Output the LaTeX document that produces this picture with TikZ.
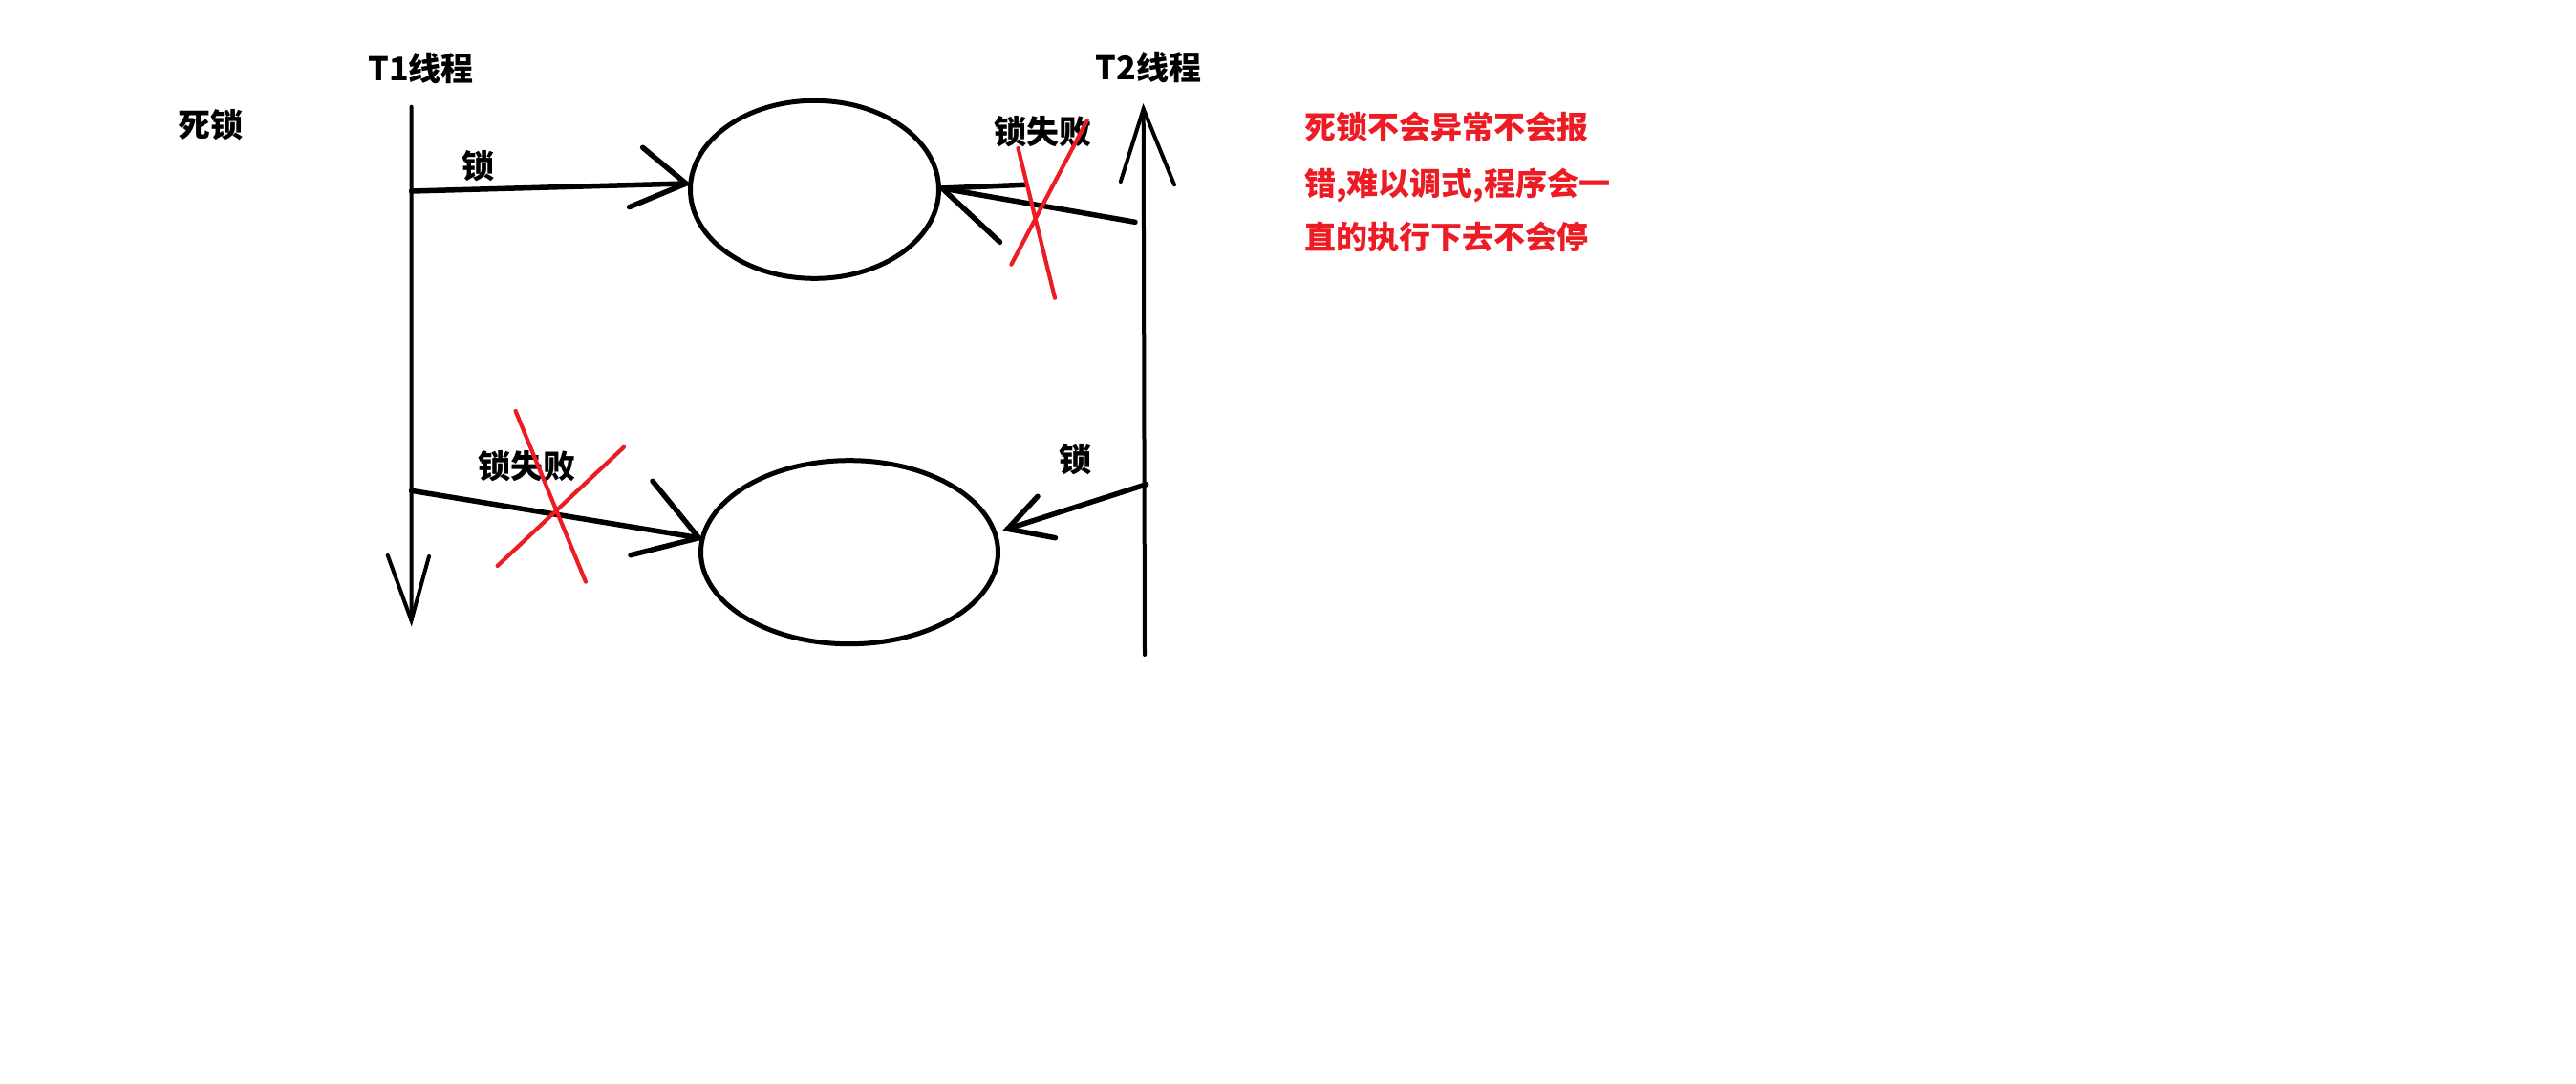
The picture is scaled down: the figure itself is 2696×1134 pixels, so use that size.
\documentclass[tikz,border=0pt]{standalone}
\usepackage{fontspec}
\setmainfont{Noto Sans CJK SC}
\usetikzlibrary{shapes.geometric}
\definecolor{pred}{RGB}{237,28,36}
\tikzset{
  thread/.style={line width=4pt, line cap=round, black},
  arr/.style={line width=5.5pt, line cap=round, black},
  ring/.style={draw, ellipse, line width=5pt, inner sep=0pt},
  cross/.style={line width=4.2pt, line cap=round, pred},
  lbl/.style={font=\fontsize{34}{40}\selectfont\bfseries, anchor=base, inner sep=0pt},
  note/.style={font=\fontsize{33}{40}\selectfont\bfseries, text=pred, anchor=base west, inner sep=0pt}
}
\begin{document}
\begin{tikzpicture}[x=1pt,y=-1pt]
\fill[white] (0,0) rectangle (2696,1134);
\useasboundingbox (0,0) rectangle (2696,1134);

% labels
\node[lbl] (dl) at (220,144) {死锁};
\node[lbl] (t1l) at (440.5,85) {T1线程};
\node[lbl] (t2l) at (1202,84) {T2线程};
\node[lbl] (s1) at (500,187) {锁};
\node[lbl] (f1) at (1091,151) {锁失败};
\node[lbl] (f2) at (551.5,500) {锁失败};
\node[lbl] (s2) at (1125,493) {锁};
\node[note] (n1) at (1365,146) {死锁不会异常不会报};
\node[note] (n2) at (1365,204.5) {错,难以调式,程序会一};
\node[note] (n3) at (1365,261) {直的执行下去不会停};

% resources
\node[ring, minimum width=260pt, minimum height=186pt] (e1) at (852.5,198.3) {};
\node[ring, minimum width=311pt, minimum height=192pt] (e2) at (889,577.7) {};

% threads
\coordinate (t1top) at (430.6,111.7);
\coordinate (t1bot) at (430.5,649);
\coordinate (t1ha) at (405.8,581);
\coordinate (t1hb) at (449,582);
\draw[thread] (t1top) -- (t1bot);
\draw[thread] (t1ha) -- (t1bot) -- (t1hb);

\coordinate (t2bot) at (1198,685);
\coordinate (t2top) at (1196.7,114);
\coordinate (t2ha) at (1172.8,190);
\coordinate (t2hb) at (1229,193.3);
\draw[thread] (t2bot) -- (t2top);
\draw[thread] (t2ha) -- (t2top) -- (t2hb);

% T1 locks e1
\coordinate (a1s) at (430.6,200);
\coordinate (a1t) at (718,192);
\coordinate (a1a) at (672.6,154.3);
\coordinate (a1b) at (658.6,216.7);
\draw[arr] (a1s) -- (a1t);
\draw[arr] (a1a) -- (a1t) -- (a1b);

% T2 fails on e1
\coordinate (a2s) at (1188,232.3);
\coordinate (a2t) at (986,197);
\coordinate (a2a) at (1072.5,193.3);
\coordinate (a2b) at (1046.5,253.3);
\draw[arr] (a2s) -- (a2t);
\draw[arr] (a2a) -- (a2t) -- (a2b);

% T1 fails on e2
\coordinate (a3s) at (430.5,513.3);
\coordinate (a3t) at (731.3,562.7);
\coordinate (a3a) at (683,503.3);
\coordinate (a3b) at (660,580.7);
\draw[arr] (a3s) -- (a3t);
\draw[arr] (a3a) -- (a3t) -- (a3b);

% T2 locks e2
\coordinate (a4s) at (1199.7,506.7);
\coordinate (a4t) at (1054.5,553.3);
\coordinate (a4a) at (1086,519.3);
\coordinate (a4b) at (1104.5,562.7);
\draw[arr] (a4s) -- (a4t);
\draw[arr] (a4a) -- (a4t) -- (a4b);

% red crosses
\coordinate (c1a) at (1065.5,155);
\coordinate (c1b) at (1104,311.7);
\coordinate (c1c) at (1137.8,126);
\coordinate (c1d) at (1058.4,276.7);
\draw[cross] (c1a) -- (c1b);
\draw[cross] (c1c) -- (c1d);

\coordinate (c2a) at (539.6,430);
\coordinate (c2b) at (613,608.7);
\coordinate (c2c) at (653,467.7);
\coordinate (c2d) at (520.6,592);
\draw[cross] (c2a) -- (c2b);
\draw[cross] (c2c) -- (c2d);
\end{tikzpicture}
\end{document}
